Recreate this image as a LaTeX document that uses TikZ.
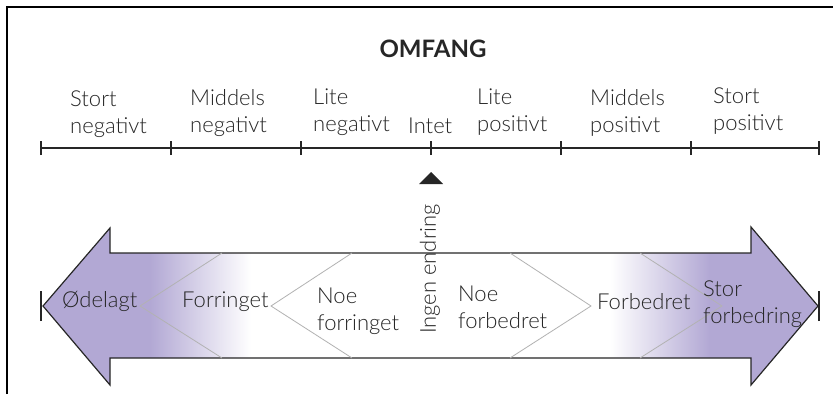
\documentclass[tikz,border=0pt]{standalone}
\usepackage{fontspec}
\setmainfont{Lato Light}[BoldFont={Lato Bold}]
\definecolor{omfpurple}{HTML}{B2A8D4}
\definecolor{omfgray}{HTML}{262626}
\pgfdeclarehorizontalshading{omfband}{100bp}{color(0bp)=(omfpurple); color(31.9bp)=(omfpurple); color(38.4bp)=(white); color(61.6bp)=(white); color(68bp)=(omfpurple); color(100bp)=(omfpurple)}
\begin{document}
\begin{tikzpicture}[x=1pt,y=-1pt,
    lbl/.style={anchor=base west,inner sep=0pt,align=left,text=omfgray,font=\fontsize{22}{27}\selectfont},
    tick/.style={draw=omfgray,line width=1.8pt},
    chevron/.style={draw=gray!60,line width=0.8pt}]
  \useasboundingbox (0,0) rectangle (833,394);
  \draw[line width=1.6pt] (7,394) -- (7,7) -- (833,7);
  \node[anchor=base,inner sep=0pt,text=omfgray,font=\bfseries\fontsize{24}{28}\selectfont] (omfang) at (433,57) {OMFANG};
  \draw
    (41,148) coordinate (t0)
    (171,148) coordinate (t1)
    (301,148) coordinate (t2)
    (431,148) coordinate (t3)
    (561,148) coordinate (t4)
    (691,148) coordinate (t5)
    (819,148) coordinate (t6);
  \draw[tick] (t0) -- (t6);
  \foreach \i in {0,...,6}
    \draw[tick] ([yshift=-7pt]t\i) -- ([yshift=7pt]t\i);
  \draw
    (70,133) node[lbl] (sneg){Stort\\negativt}
    (190,132) node[lbl] (mneg){Middels\\negativt}
    (313,131) node[lbl] (lneg){Lite\\negativt}
    (408,133) node[lbl] (intet){Intet}
    (477,131) node[lbl] (lpos){Lite\\positivt}
    (590,132) node[lbl] (mpos){Middels\\positivt}
    (713,130) node[lbl] (spos){Stort\\positivt};
  \fill[black!85] (431,172) -- (443,184) -- (419,184) -- cycle;
  \draw
    (43,306) coordinate (lefttip)
    (818,306) coordinate (righttip)
    (41,306) coordinate (leftend)
    (819,306) coordinate (rightend);
  \draw[draw=omfgray,line width=1.2pt,shading=omfband]
    (lefttip) -- (110,228) -- (110,253) -- (751,253) -- (751,227) -- (righttip)
    -- (751,385) -- (751,358) -- (110,358) -- (110,385) -- cycle;
  \begin{scope}[chevron]
    \draw (222,253) -- (140,306) -- (222,358);
    \draw (352,253) -- (271,306) -- (352,358);
    \draw (510,253) -- (591,306) -- (510,358);
    \draw (640,253) -- (722,306) -- (640,358);
  \end{scope}
  \draw[tick] ([yshift=-15pt]leftend) -- ([yshift=15pt]leftend);
  \draw[tick] ([yshift=-15pt]rightend) -- ([yshift=15pt]rightend);
  \draw
    (62,307) node[lbl] (odelagt){Ødelagt}
    (182,307) node[lbl] (forr){Forringet}
    (317,330) node[lbl] (noeforr){Noe\\forringet}
    (458,328) node[lbl] (noeforb){Noe\\forbedret}
    (597,309) node[lbl] (forb){Forbedret}
    (703,323) node[lbl] (storforb){Stor\\forbedring};
  \node[rotate=90,inner sep=0pt,text=omfgray,font=\fontsize{22}{27}\selectfont] (ingen) at (430,269) {Ingen endring};
\end{tikzpicture}
\end{document}
